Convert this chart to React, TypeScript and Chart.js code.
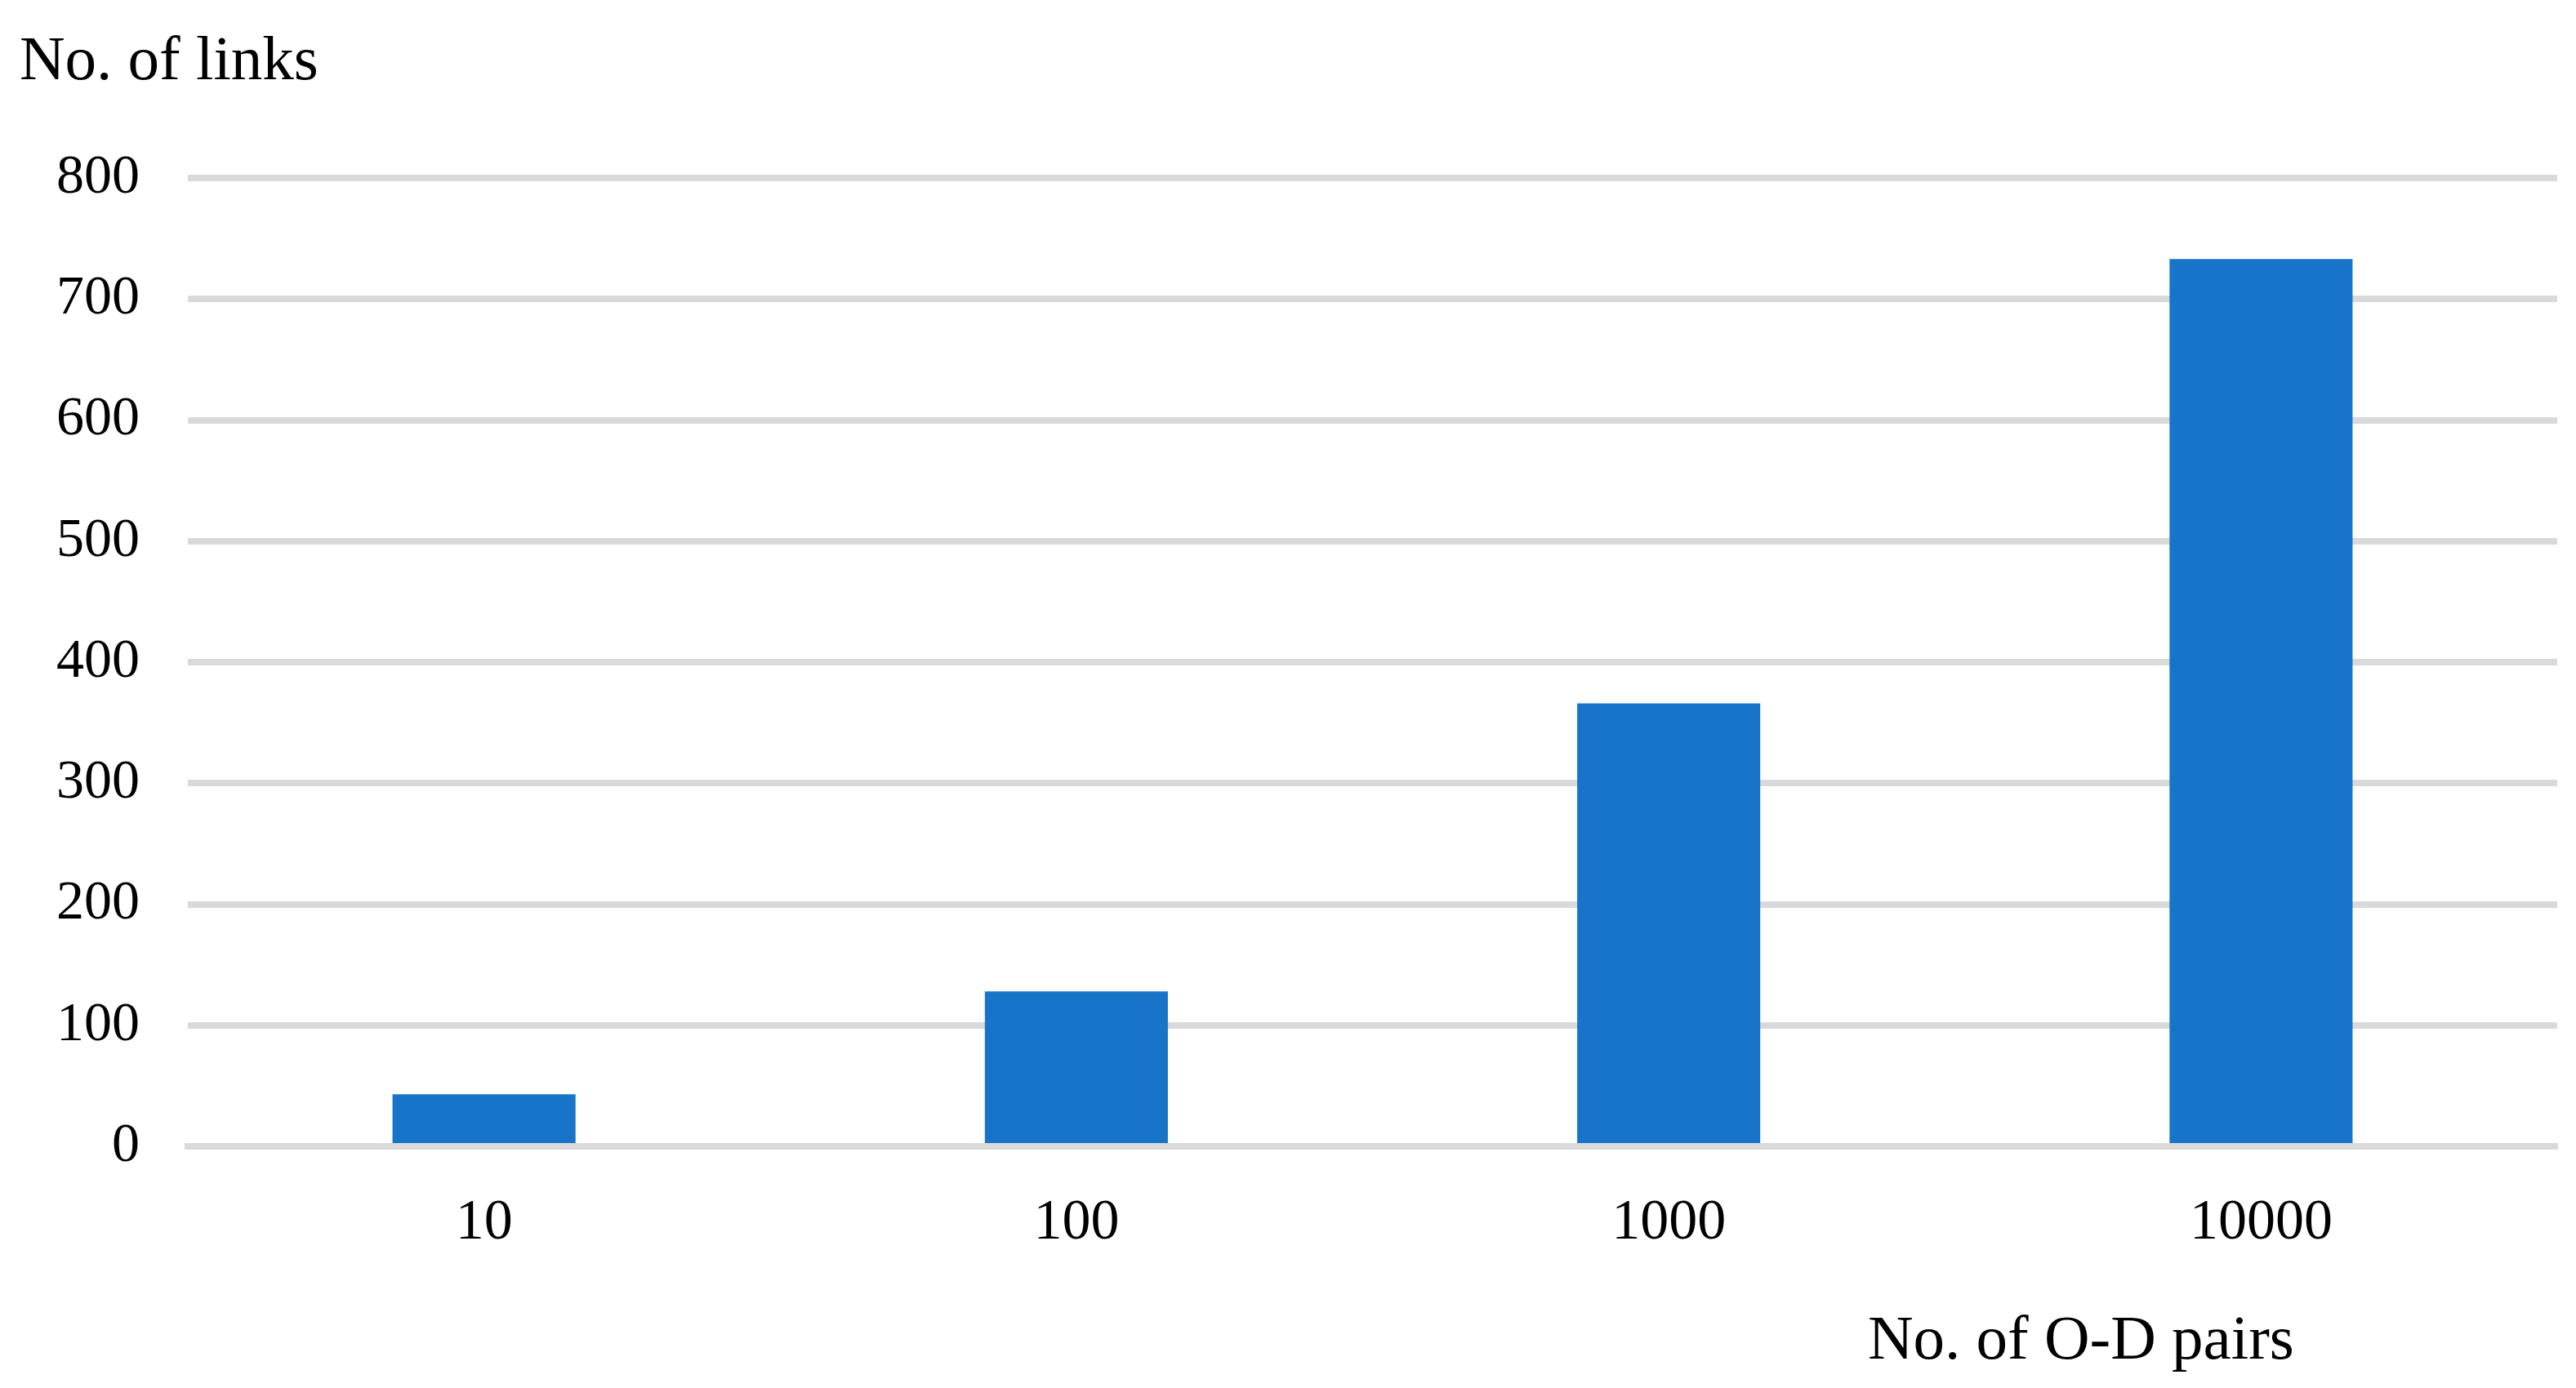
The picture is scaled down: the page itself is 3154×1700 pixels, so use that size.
import React, { useEffect, useRef } from "react";
import { Chart, registerables } from "chart.js";

Chart.register(...registerables);

const categories = ["10", "100", "1000", "10000"];
const linkCounts = [43, 128, 366, 733];
const yMin = 0;
const yMax = 800;
const yStep = 100;
const yAxisTitle = "No. of links";
const xAxisTitle = "No. of O-D pairs";

const FONT = '"Liberation Serif", "Times New Roman", serif';

const titlesPlugin = {
  id: "cornerTitles",
  afterDraw(chart: any) {
    const { ctx, chartArea } = chart;
    ctx.save();
    ctx.fillStyle = "#000000";
    ctx.font = `77px ${FONT}`;
    ctx.textBaseline = "alphabetic";
    ctx.textAlign = "left";
    ctx.fillText(yAxisTitle, 24, 97);
    ctx.textAlign = "center";
    const cx = chartArea.left + 0.799 * (chartArea.right - chartArea.left);
    ctx.fillText(xAxisTitle, cx, 1664);
    ctx.restore();
  },
};

export default function App() {
  const canvasRef = useRef<HTMLCanvasElement | null>(null);

  useEffect(() => {
    const canvas = canvasRef.current;
    if (!canvas) return;
    const chart = new Chart(canvas, {
      type: "bar",
      data: {
        labels: categories,
        datasets: [
          {
            data: linkCounts,
            backgroundColor: "#1874C9",
            borderWidth: 0,
            categoryPercentage: 1,
            barPercentage: 0.309,
          },
        ],
      },
      options: {
        responsive: false,
        animation: false,
        devicePixelRatio: 1,
        layout: { padding: { top: 218, left: 0, right: 23, bottom: 114 } },
        plugins: {
          legend: { display: false },
          title: { display: false },
          tooltip: { enabled: false },
        },
        scales: {
          x: {
            grid: { display: false },
            border: { display: true, color: "#d9d9d9", width: 8, z: 1 },
            ticks: {
              color: "#000000",
              font: { family: FONT, size: 70 },
              padding: 45,
            },
          },
          y: {
            min: yMin,
            max: yMax,
            afterFit: (scale: any) => {
              scale.width = 230;
            },
            grid: { color: "#d9d9d9", lineWidth: 8, drawTicks: false },
            border: { display: false },
            ticks: {
              stepSize: yStep,
              color: "#000000",
              font: { family: FONT, size: 68 },
              padding: 59,
            },
          },
        },
      },
      plugins: [titlesPlugin],
    });
    return () => chart.destroy();
  }, []);

  return (
    <div style={{ position: "absolute", left: 0, top: 0, width: 3154, height: 1700, background: "#ffffff" }}>
      <canvas ref={canvasRef} width={3154} height={1700} style={{ display: "block" }} />
    </div>
  );
}
